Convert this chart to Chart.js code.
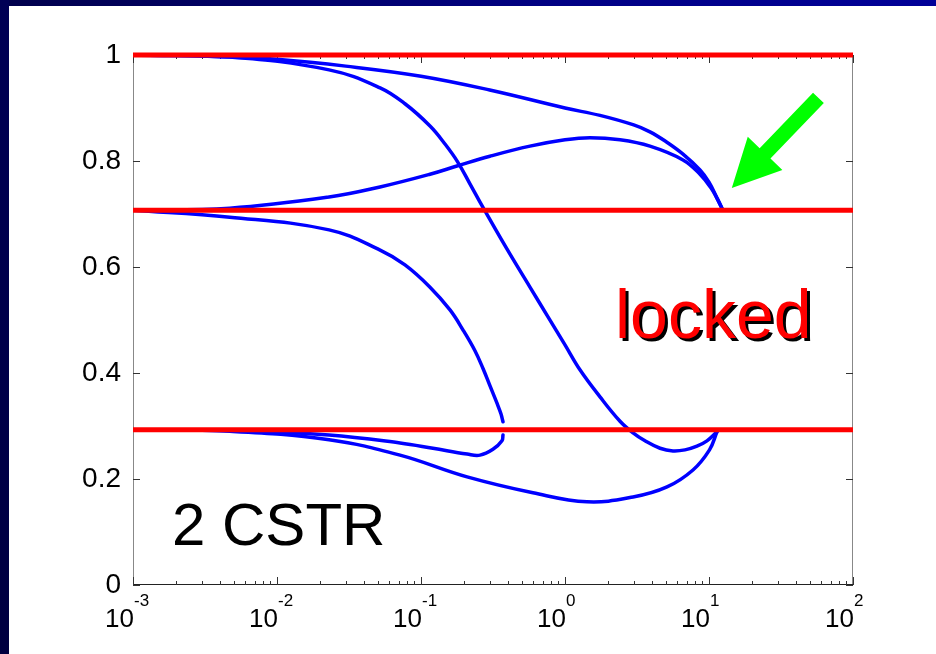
<!DOCTYPE html>
<html><head><meta charset="utf-8">
<script src="https://cdn.jsdelivr.net/npm/chart.js@4/dist/chart.umd.min.js"></script>
<style>
html,body{margin:0;padding:0;background:#fff;width:936px;height:654px;overflow:hidden;}
#wrap{position:relative;width:936px;height:654px;background:#fff;}
#topbar{position:absolute;left:0;top:0;width:936px;height:6px;background:linear-gradient(to right,#00004c,#000084 60%,#000098);}
#leftbar{position:absolute;left:0;top:0;width:9px;height:654px;background:linear-gradient(to bottom,#000055,#000040);}
canvas{position:absolute;left:0;top:0;}
</style></head><body>
<div id="wrap"><canvas id="c" width="936" height="654"></canvas><div id="topbar"></div><div id="leftbar"></div></div>
<script>
// ---- tick labels ----
const xTickValues = [0.001, 0.01, 0.1, 1, 10, 100];
const xTickBase = ['10', '10', '10', '10', '10', '10'];
const xTickExp = ['-3', '-2', '-1', '0', '1', '2'];
const yTickValues = [0, 0.2, 0.4, 0.6, 0.8, 1];
const yTickLabels = ['0', '0.2', '0.4', '0.6', '0.8', '1'];

// ---- locked (red) levels ----
const lockedLevels = [1, 0.7071, 0.2929];
const lockedX = [0.001, 100];

// ---- blue branches ----
const c1X = [0.001, 0.002, 0.005, 0.01, 0.03, 0.1, 0.3, 1, 1.75, 3, 3.89, 5, 6.6, 8.66, 10, 11.36, 12.3];
const c1Y = [1.0, 0.999, 0.996, 0.992, 0.979, 0.960, 0.934, 0.900, 0.886, 0.868, 0.855, 0.837, 0.813, 0.783, 0.760, 0.730, 0.711];

const c2X = [0.001, 0.0047, 0.023, 0.0519, 0.1155, 0.18, 0.301, 0.571, 1, 1.49, 2.41, 3.89, 6.6, 8.66, 10.33, 11.36, 12.3];
const c2Y = [0.7071, 0.711, 0.732, 0.751, 0.775, 0.791, 0.809, 0.828, 0.840, 0.844, 0.840, 0.828, 0.802, 0.775, 0.749, 0.730, 0.711];

const c3X = [0.001, 0.0047, 0.023, 0.052, 0.0774, 0.1155, 0.1468, 0.18, 0.2187, 0.27, 0.395, 0.571, 0.762, 1.0, 1.27, 1.75, 2.41, 2.97, 3.594, 4.57, 5.62, 6.81, 8.25, 9.68, 11.36];
const c3Y = [1.0, 0.996, 0.972, 0.938, 0.908, 0.866, 0.832, 0.798, 0.757, 0.712, 0.634, 0.562, 0.506, 0.453, 0.406, 0.355, 0.309, 0.287, 0.272, 0.258, 0.253, 0.255, 0.262, 0.272, 0.289];

const c4X = [0.001, 0.0047, 0.023, 0.052, 0.0774, 0.1155, 0.159, 0.196, 0.237, 0.27, 0.301, 0.337, 0.359, 0.371];
const c4Y = [0.7071, 0.694, 0.670, 0.632, 0.604, 0.562, 0.519, 0.481, 0.442, 0.408, 0.376, 0.343, 0.323, 0.308];

const c5X = [0.001, 0.0047, 0.023, 0.0715, 0.121, 0.209, 0.257, 0.316, 0.365, 0.371];
const c5Y = [0.2929, 0.292, 0.283, 0.268, 0.258, 0.247, 0.245, 0.256, 0.272, 0.283];

const c6X = [0.001, 0.0047, 0.023, 0.0715, 0.209, 0.599, 1.42, 2.97, 5.11, 7.74, 10.08, 11.36];
const c6Y = [0.2929, 0.290, 0.274, 0.245, 0.204, 0.174, 0.157, 0.166, 0.185, 0.217, 0.255, 0.289];

// ---- annotations ----
const cstrLabel = '2 CSTR';
const lockedLabel = 'locked';
const arrowTip = {x: 14.4, y: 0.749};

const FONT = 'Arial, "Liberation Sans", Helvetica, sans-serif';
const pts = (xs, ys) => xs.map((x, i) => ({x: x, y: ys[i]}));

const datasets = [];
lockedLevels.forEach(l => datasets.push({
  data: pts(lockedX, lockedX.map(() => l)),
  borderColor: '#ff0000', borderWidth: 5, pointRadius: 0, order: 0, clip: false,
  borderCapStyle: 'butt', tension: 0
}));
[[c1X, c1Y], [c2X, c2Y], [c3X, c3Y], [c4X, c4Y], [c5X, c5Y], [c6X, c6Y]].forEach(([xs, ys]) => datasets.push({
  data: pts(xs, ys),
  borderColor: '#0000ff', borderWidth: 3.5, pointRadius: 0, order: 1,
  tension: 0.4, borderJoinStyle: 'round', borderCapStyle: 'round'
}));

const frame = {
  id: 'frame',
  beforeDatasetsDraw(chart) {
    const {ctx, chartArea: a, scales: {x, y}} = chart;
    ctx.save();
    ctx.lineWidth = 1;
    ctx.strokeStyle = '#888';
    ctx.beginPath();
    ctx.moveTo(a.left + 0.5, a.top); ctx.lineTo(a.left + 0.5, a.bottom);
    ctx.moveTo(a.right - 0.5, a.top); ctx.lineTo(a.right - 0.5, a.bottom);
    ctx.moveTo(a.left, a.top + 0.5); ctx.lineTo(a.right, a.top + 0.5);
    ctx.stroke();
    ctx.strokeStyle = '#222';
    ctx.beginPath();
    ctx.moveTo(a.left, a.bottom - 0.5); ctx.lineTo(a.right, a.bottom - 0.5);
    ctx.stroke();
    ctx.strokeStyle = '#333';
    ctx.beginPath();
    for (let d = -3; d <= 2; d++) {
      for (let m = 1; m <= 9; m++) {
        const v = m * Math.pow(10, d);
        if (v > 100.0001) break;
        const px = Math.round(x.getPixelForValue(v)) + 0.5;
        const len = m === 1 ? 8 : 4;
        ctx.moveTo(px, a.bottom); ctx.lineTo(px, a.bottom - len);
        ctx.moveTo(px, a.top); ctx.lineTo(px, a.top + len);
      }
    }
    yTickValues.forEach(v => {
      const py = Math.round(y.getPixelForValue(v)) + 0.5;
      ctx.moveTo(a.left, py); ctx.lineTo(a.left + 7, py);
      ctx.moveTo(a.right, py); ctx.lineTo(a.right - 7, py);
    });
    ctx.stroke();
    ctx.restore();
  },
  afterDraw(chart) {
    const {ctx, scales: {x, y}} = chart;
    ctx.save();
    ctx.fillStyle = '#000';
    ctx.textBaseline = 'alphabetic';
    xTickValues.forEach((v, i) => {
      const px = x.getPixelForValue(v);
      ctx.font = '26px ' + FONT;
      ctx.textAlign = 'right';
      ctx.fillText(xTickBase[i], px + 1, 627);
      ctx.font = '17px ' + FONT;
      ctx.textAlign = 'left';
      ctx.fillText(xTickExp[i], px + 1, 606);
    });
    ctx.font = '60px ' + FONT;
    ctx.textAlign = 'left';
    ctx.fillStyle = '#000';
    ctx.fillText(cstrLabel, 172, 545);
    ctx.font = '68px ' + FONT;
    ctx.fillStyle = '#000';
    ctx.fillText(lockedLabel, 618, 341);
    ctx.fillStyle = '#ff0000';
    ctx.fillText(lockedLabel, 615, 338);
    const tx = x.getPixelForValue(arrowTip.x), ty = y.getPixelForValue(arrowTip.y);
    const ux = 0.693, uy = -0.721, nx = 0.721, ny = 0.693;
    const L = 125, H = 48, HW = 24, SW = 7.5;
    const P = (along, side) => [tx + ux * along + nx * side, ty + uy * along + ny * side];
    const poly = [P(0, 0), P(H, HW), P(H, SW), P(L, SW), P(L, -SW), P(H, -SW), P(H, -HW)];
    ctx.fillStyle = '#00ff00';
    ctx.beginPath();
    poly.forEach((p, i) => i ? ctx.lineTo(p[0], p[1]) : ctx.moveTo(p[0], p[1]));
    ctx.closePath();
    ctx.fill();
    ctx.restore();
  }
};

new Chart(document.getElementById('c'), {
  type: 'scatter',
  data: {datasets: datasets},
  options: {
    responsive: false,
    animation: false,
    showLine: true,
    layout: {padding: {top: 55, right: 83, left: 0, bottom: 0}},
    plugins: {legend: {display: false}, tooltip: {enabled: false}},
    scales: {
      x: {
        type: 'logarithmic', min: 0.001, max: 100,
        ticks: {display: false},
        grid: {display: false, drawTicks: false}, border: {display: false},
        afterFit(s) { s.height = 69; }
      },
      y: {
        type: 'linear', min: 0, max: 1,
        afterBuildTicks(s) { s.ticks = yTickValues.map(v => ({value: v})); },
        ticks: {
          color: '#000', padding: 12, font: {size: 28, family: FONT},
          callback: (v) => { const i = yTickValues.findIndex(t => Math.abs(t - v) < 1e-6); return i >= 0 ? yTickLabels[i] : ''; }
        },
        grid: {display: false, drawTicks: false}, border: {display: false},
        afterFit(s) { s.width = 133; }
      }
    }
  },
  plugins: [frame]
});
</script>
</body></html>
